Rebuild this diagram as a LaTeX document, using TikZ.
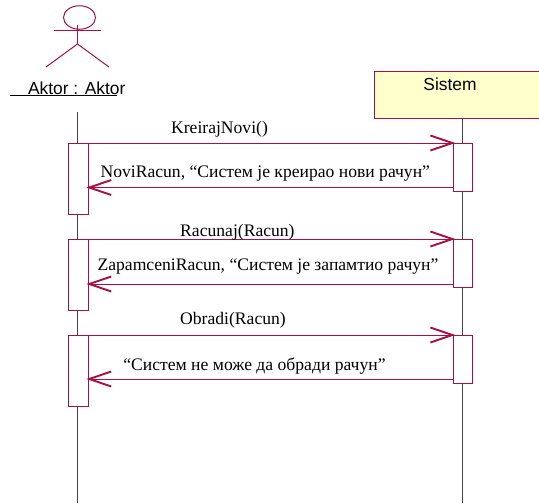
\documentclass[tikz,border=0pt]{standalone}
\usepackage{fontspec}
\setmainfont{Liberation Serif}
\newfontfamily\arialfont{Liberation Sans}
\usetikzlibrary{positioning,shapes.geometric,arrows.meta}

\definecolor{rosered}{HTML}{A80F45}
\definecolor{roseyellow}{HTML}{FFFFCC}
\definecolor{lifegray}{HTML}{444444}

\begin{document}
\begin{tikzpicture}[
    x=1pt, y=-1pt,
    actorline/.style={draw=rosered, line width=1pt},
    objnode/.style={rectangle, draw=rosered, fill=roseyellow, line width=1pt, outer sep=0pt, minimum width=176pt, minimum height=46.5pt},
    leftbar/.style={rectangle, draw=rosered, fill=white, line width=1pt, outer sep=0pt, minimum width=20pt, minimum height=71.5pt},
    rightbar/.style={rectangle, draw=rosered, fill=white, line width=1pt, outer sep=0pt, minimum width=19pt, minimum height=48pt},
    lifeline/.style={draw=lifegray, line width=0.9pt},
    msg/.style={draw=rosered, line width=1pt, shorten >=-2pt, -{Straight Barb[length=22pt, width=15pt, line width=1.9pt]}},
    msgtext/.style={anchor=base, inner sep=0pt, font=\fontsize{17.6}{20}\selectfont},
    arialtext/.style={anchor=base, inner sep=0pt, font=\arialfont\fontsize{17.4}{20}\selectfont},
  ]
  \clip (0,0) rectangle (539,504);
  % actor
  \node[ellipse, draw=rosered, line width=1pt, minimum width=32pt, minimum height=23.5pt, inner sep=0pt] (Head) at (79.5,17.5) {};
  \coordinate (Neck)  at (77.5,25);
  \coordinate (Hip)   at (77.5,44);
  \coordinate (ArmL)  at (54,30.5);
  \coordinate (ArmR)  at (100.5,30.5);
  \coordinate (LegL)  at (46,67);
  \coordinate (LegR)  at (109,67);
  \draw[actorline] (Neck) -- (Hip);
  \draw[actorline] (ArmL) -- (ArmR);
  \draw[actorline] (Hip) -- (LegL);
  \draw[actorline] (Hip) -- (LegR);
  \node[arialtext] (AktorName) at (76.7,94.5) {Aktor : Aktor};
  \coordinate (UnderL) at (10,95.3);
  \coordinate (UnderR) at (117,95.3);
  \draw[black, line width=0.9pt] (UnderL) -- (UnderR);
  % object
  \node[objnode] (Sistem) at (462.7,95) {};
  \node[arialtext] (SistemName) at (450,90.7) {Sistem};
  % lifelines
  \coordinate (AktorTop) at (77.5,112);
  \coordinate (AktorEnd) at (77.5,503);
  \draw[lifeline] (AktorTop) -- (AktorEnd);
  \draw[lifeline] (Sistem.south) -- (Sistem.south |- AktorEnd);
  % activations
  \node[leftbar]  (L1) at (78.3,143) [anchor=north] {};
  \node[leftbar]  (L2) [below=24.5pt of L1]         {};
  \node[leftbar]  (L3) [below=24.5pt of L2]         {};
  \node[rightbar] (R1) at (462.8,143) [anchor=north] {};
  \node[rightbar] (R2) [below=48pt of R1]           {};
  \node[rightbar] (R3) [below=48pt of R2]           {};
  % messages
  \coordinate (Ret1) at (0,187.5);
  \coordinate (Ret2) at (0,284);
  \coordinate (Ret3) at (0,379);
  \draw[msg] (L1.north east) -- (R1.north west);
  \draw[msg] (R1.west |- Ret1) -- (L1.east |- Ret1);
  \draw[msg] (L2.north east) -- (R2.north west);
  \draw[msg] (R2.west |- Ret2) -- (L2.east |- Ret2);
  \draw[msg] (L3.north east) -- (R3.north west);
  \draw[msg] (R3.west |- Ret3) -- (L3.east |- Ret3);
  \node[msgtext] (M1) at (219.5,133)   {KreirajNovi()};
  \node[msgtext] (M2) at (265.3,177)   {NoviRacun, “Систем је креирао нови рачун”};
  \node[msgtext] (M3) at (237.4,236)   {Racunaj(Racun)};
  \node[msgtext] (M4) at (268,270.7)   {ZapamceniRacun, “Систем је запамтио рачун”};
  \node[msgtext] (M5) at (233,324)     {Obradi(Racun)};
  \node[msgtext] (M6) at (254.5,370)   {“Систем не може да обради рачун”};
\end{tikzpicture}
\end{document}
